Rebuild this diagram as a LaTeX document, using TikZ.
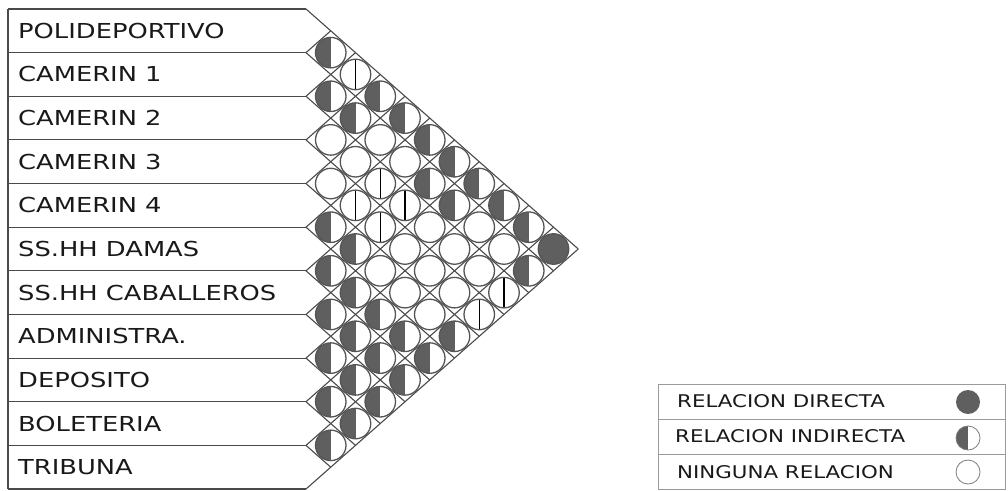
\documentclass[tikz,border=0pt]{standalone}
\usepackage{fontspec}
\newfontfamily\lblfont[FakeStretch=1.25]{DejaVu Sans}
\newfontfamily\legfont[FakeStretch=1.22]{DejaVu Sans}
\definecolor{fillc}{HTML}{5F5F5F}
\definecolor{linec}{HTML}{4A4A4A}
\definecolor{circc}{HTML}{555555}
\definecolor{legc}{HTML}{9A9A9A}
\begin{document}
\begin{tikzpicture}[x=1pt,y=-1pt,
  gridl/.style={draw=linec, line width=1.1pt},
  legl/.style={draw=legc, line width=1pt},
  cell/.style={circle, minimum size=30.5pt, inner sep=0pt, draw=circc, line width=1.3pt, fill=white},
  relfull/.style={cell, fill=fillc},
  relhalf/.style={cell, path picture={\fill[fillc] (path picture bounding box.south west) rectangle (path picture bounding box.north);}},
  relbar/.style={cell, path picture={\draw[black, line width=1.1pt] (path picture bounding box.south) -- (path picture bounding box.north);}},
  relnone/.style={cell},
  lbl/.style={anchor=west, inner sep=0pt, font=\lblfont\fontsize{20.6}{24}\selectfont, text=black!90},
  legt/.style={anchor=west, inner sep=0pt, font=\legfont\fontsize{17.5}{21}\selectfont, text=black!90},
  legsym/.style={circle, minimum size=24pt, inner sep=0pt, line width=0.8pt}
]
\useasboundingbox (0,0) rectangle (1008,490);
\def\X{306}\def\W{49.5}\def\Y{9}\def\H{43.636}
% row boundary points
\foreach \k in {0,...,11}{
  \coordinate (p\k) at (\X,{\Y+\k*\H});
  \coordinate (l\k) at (8,{\Y+\k*\H});
}
% label box
\foreach \k in {0,...,11}{\draw[gridl] (l\k) -- (p\k);}
\draw[gridl] (l0) -- (l11);
% diagonal grid
\foreach \k in {0,...,11}{
  \draw[gridl] (p\k) -- ++({(11-\k)*\W/2},{(11-\k)*\H/2});
  \draw[gridl] (p\k) -- ++({\k*\W/2},{-\k*\H/2});
}
% labels
\foreach \n/\t in {1/POLIDEPORTIVO,2/CAMERIN 1,3/CAMERIN 2,4/CAMERIN 3,5/CAMERIN 4,6/SS.HH DAMAS,7/SS.HH CABALLEROS,8/ADMINISTRA.,9/DEPOSITO,10/BOLETERIA,11/TRIBUNA}{
  \node[lbl] (r\n) at (18,{\Y+(\n-0.5)*\H}) {\t};
}
% matrix cells
\foreach \i/\j/\s in {
 1/2/relhalf,1/3/relbar,1/4/relhalf,1/5/relhalf,1/6/relhalf,1/7/relhalf,1/8/relhalf,1/9/relhalf,1/10/relhalf,1/11/relfull,
 2/3/relhalf,2/4/relhalf,2/5/relnone,2/6/relnone,2/7/relhalf,2/8/relhalf,2/9/relnone,2/10/relnone,2/11/relhalf,
 3/4/relnone,3/5/relnone,3/6/relbar,3/7/relbar,3/8/relnone,3/9/relnone,3/10/relnone,3/11/relbar,
 4/5/relnone,4/6/relbar,4/7/relbar,4/8/relnone,4/9/relnone,4/10/relnone,4/11/relbar,
 5/6/relhalf,5/7/relhalf,5/8/relnone,5/9/relnone,5/10/relnone,5/11/relhalf,
 6/7/relhalf,6/8/relhalf,6/9/relhalf,6/10/relhalf,6/11/relhalf,
 7/8/relhalf,7/9/relhalf,7/10/relhalf,7/11/relhalf,
 8/9/relhalf,8/10/relhalf,8/11/relhalf,
 9/10/relhalf,9/11/relhalf,
 10/11/relhalf}{
  \node[\s] (c\i-\j) at ({\X+(\j-\i)*\W/2},{\Y+((\i+\j-1)/2)*\H}) {};
}
% legend
\draw[legl] (658,384) rectangle (1005,489.5);
\draw[legl] (658,419) -- (1005,419);
\draw[legl] (658,454) -- (1005,454);
\node[legt] (lg1) at (677,401.5) {RELACION DIRECTA};
\node[legt] (lg2) at (675,436.5) {RELACION INDIRECTA};
\node[legt] (lg3) at (677,472) {NINGUNA RELACION};
\node[legsym, fill=fillc] (s1) at (968,402) {};
\node[legsym, draw=legc!80!black, fill=white, path picture={\fill[fillc] (path picture bounding box.south west) rectangle (path picture bounding box.north);}] (s2) at (968,438) {};
\node[legsym, draw=legc!80!black, fill=white] (s3) at (968,472) {};
\end{tikzpicture}
\end{document}
